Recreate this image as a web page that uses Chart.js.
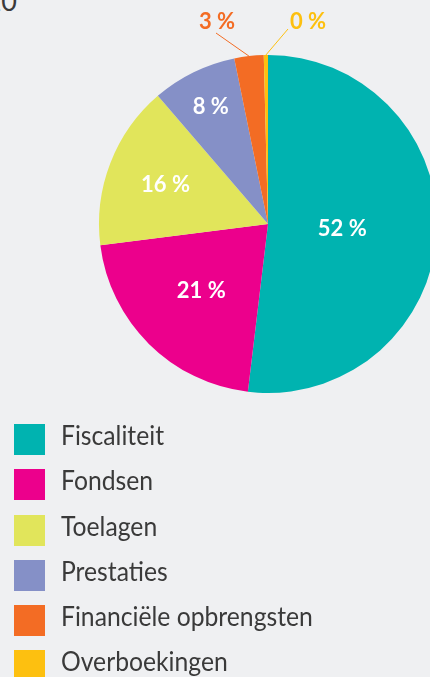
<!DOCTYPE html>
<html>
<head>
<meta charset="utf-8">
<script src="https://cdn.jsdelivr.net/npm/chart.js@4"></script>
<style>
  html, body { margin: 0; padding: 0; background: #eff0f2; overflow: hidden; width: 430px; height: 677px; }
  #wrap { position: absolute; left: 0; top: 0; width: 536px; height: 420px; }
  #jaar { position: absolute; left: -60px; top: -16px; width: 77px; text-align: right;
          font-family: Lato, sans-serif; font-weight: 400; font-size: 27px; color: #3a3a3a; }
  #legende { position: absolute; left: 14px; top: 424px; margin: 0; padding: 0; list-style: none;
             font-family: Lato, sans-serif; font-size: 26px; color: #3a3a3a; }
  #legende li { position: relative; height: 45.3px; }
  #legende .vak { position: absolute; left: 0; top: 0; width: 31px; height: 31px; }
  #legende .tekst { position: absolute; left: 47px; top: -5px; white-space: nowrap;
                    transform: scaleX(0.95); transform-origin: left center; }
</style>
</head>
<body>
<div id="jaar">2020</div>
<div id="wrap"><canvas id="chartPie" width="536" height="420"></canvas></div>
<ul id="legende"></ul>
<script>
// Verdeling van de ontvangsten (in %)
const categorieen = ['Fiscaliteit', 'Fondsen', 'Toelagen', 'Prestaties', 'Financiële opbrengsten', 'Overboekingen'];
const aandelen = [51.9, 21.1, 15.7, 8.1, 2.8, 0.4];
const kleuren = ['#00b3b0', '#ec008c', '#e1e55b', '#8590c7', '#f36c24', '#fdc010'];

// labels in de pizza en erbuiten met een lijntje
const labelPlugin = {
    id: 'procentLabels',
    afterDatasetsDraw(chart, args, opts) {
        const ctx = chart.ctx;
        const meta = chart.getDatasetMeta(0);
        ctx.save();
        ctx.font = 'bold 22px Lato, sans-serif';
        ctx.textAlign = 'center';
        ctx.textBaseline = 'middle';
        meta.data.forEach(function (arc, i) {
            const tekst = Math.round(aandelen[i]) + ' %';
            const mid = (arc.startAngle + arc.endAngle) / 2;
            const buiten = opts.buiten[i];
            if (buiten) {
                const ex = arc.x + Math.cos(mid) * arc.outerRadius;
                const ey = arc.y + Math.sin(mid) * arc.outerRadius;
                ctx.strokeStyle = kleuren[i];
                ctx.lineWidth = 1;
                ctx.beginPath();
                ctx.moveTo(arc.x + buiten.lx, arc.y + buiten.ly);
                ctx.lineTo(ex, ey);
                ctx.stroke();
                ctx.fillStyle = kleuren[i];
                ctx.fillText(tekst, arc.x + buiten.dx, arc.y + buiten.dy);
            } else {
                const r = arc.outerRadius * opts.afstand[i];
                ctx.fillStyle = '#ffffff';
                ctx.fillText(tekst, arc.x + Math.cos(mid) * r, arc.y + Math.sin(mid) * r);
            }
        });
        ctx.restore();
    }
};

const configPie = document.getElementById('chartPie');

const grafiek = new Chart(configPie, {
    type: 'pie',
    data: {
        labels: categorieen,
        datasets: [{
            label: '',
            data: aandelen,
            backgroundColor: kleuren,
            borderWidth: 0
        }]
    },
    options: {
        responsive: false,
        animation: false,
        layout: {
            padding: { top: 55, bottom: 27, left: 99, right: 99 }
        },
        plugins: {
            legend: { display: false },
            tooltip: { enabled: false },
            procentLabels: {
                afstand: [0.44, 0.56, 0.65, 0.77],
                buiten: {
                    4: { dx: -51, dy: -202, lx: -52, ly: -191 },
                    5: { dx: 40, dy: -202, lx: 20, ly: -195 }
                }
            }
        }
    },
    plugins: [labelPlugin]
});

// legende opbouwen uit de gegevens van de grafiek
const lijst = document.getElementById('legende');
grafiek.data.labels.forEach(function (naam, i) {
    const li = document.createElement('li');
    li.innerHTML = '<span class="vak" style="background:' + kleuren[i] + '"></span><span class="tekst">' + naam + '</span>';
    lijst.appendChild(li);
});
</script>
</body>
</html>
